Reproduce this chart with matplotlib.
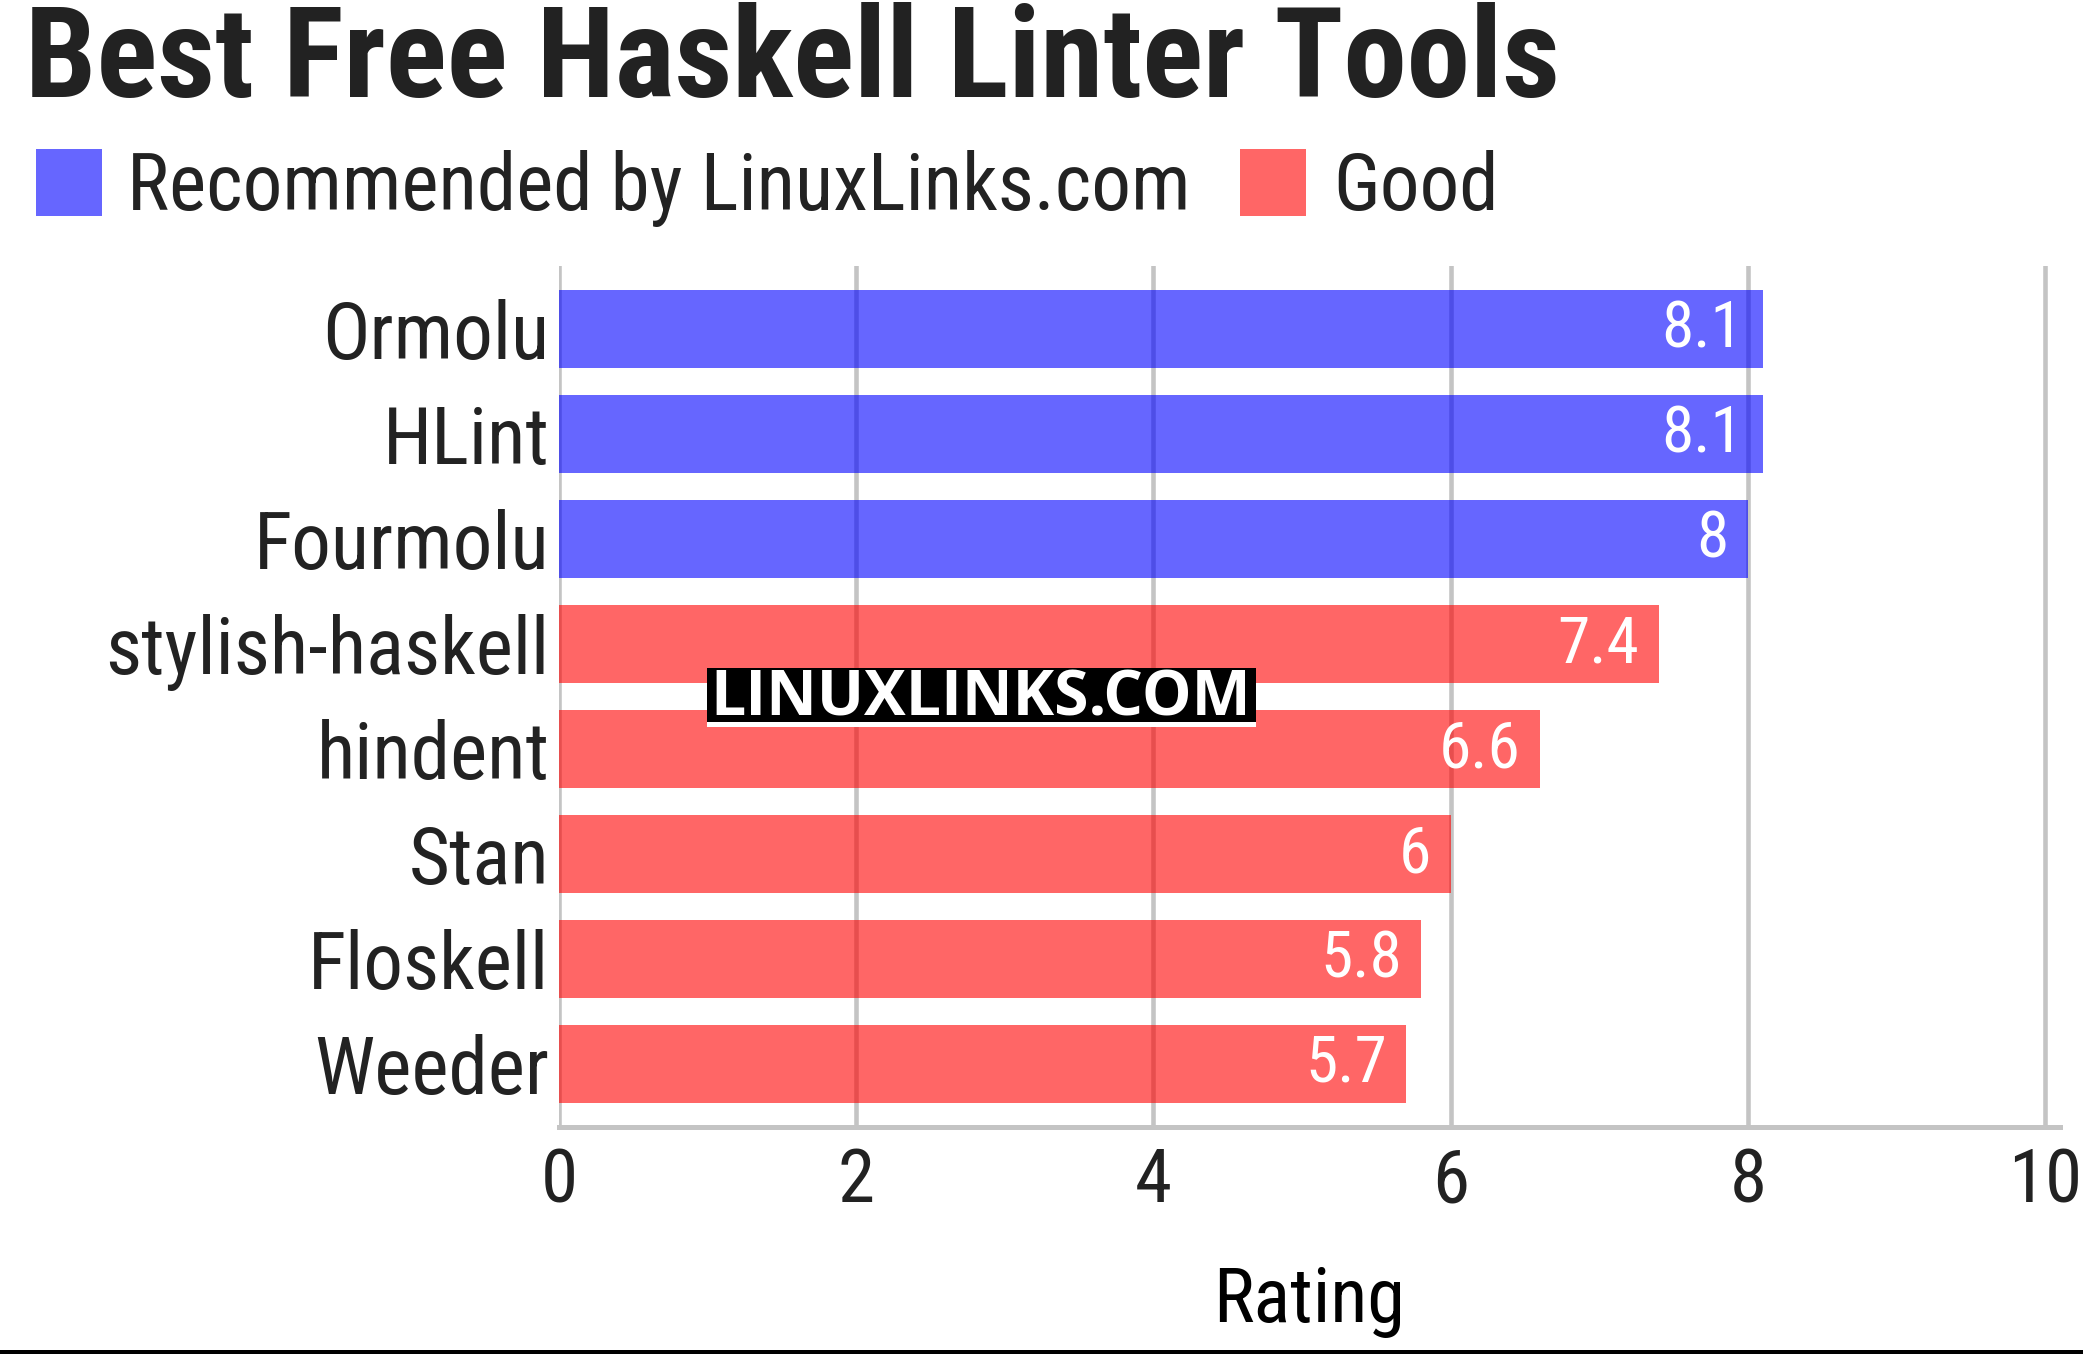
import matplotlib
matplotlib.use("Agg")
import matplotlib.pyplot as plt
from matplotlib.patches import Rectangle

tools = ["Ormolu", "HLint", "Fourmolu", "stylish-haskell", "hindent", "Stan", "Floskell", "Weeder"]
ratings = [8.1, 8.1, 8.0, 7.4, 6.6, 6.0, 5.8, 5.7]
groups = ["rec", "rec", "rec", "good", "good", "good", "good", "good"]
group_names = {"rec": "Recommended by LinuxLinks.com", "good": "Good"}
group_colors = {"rec": "blue", "good": "red"}
xticks = [0, 2, 4, 6, 8, 10]

W, H = 2083, 1354
plt.rcParams['font.family'] = ['Roboto Condensed', 'DejaVu Sans']
txt = "#222222"

fig = plt.figure(figsize=(W / 100, H / 100), dpi=100)
# axes box in pixels: left 559, right 2060, top 266, bottom 1127
ax = fig.add_axes([559 / W, 1 - 1127 / H, (2060 - 559) / W, (1127 - 266) / H])

ypos = list(range(len(tools)))
cols = [group_colors[g] for g in groups]
ax.barh(ypos, ratings, height=0.75, color=cols, alpha=0.6, zorder=2)
for y, v in zip(ypos, ratings):
    ax.text(v - 0.13, y, f"{v:g}", ha="right", va="center", color="white",
            fontsize=47, zorder=3)

ax.set_xlim(0, 10.1)
ax.set_ylim(len(tools) - 0.4, -0.6)
ax.set_xticks(xticks)
ax.set_xticklabels([str(t) for t in xticks])
ax.set_yticks(ypos)
ax.set_yticklabels(tools)
ax.tick_params(axis="y", length=0, pad=7, labelsize=57, labelcolor=txt)
ax.tick_params(axis="x", length=0, pad=14, labelsize=54, labelcolor=txt)
ax.grid(axis="x", color="#c4c4c4", linewidth=3.3, zorder=1)
ax.set_axisbelow(True)
for s in ["top", "right", "left"]:
    ax.spines[s].set_visible(False)
ax.spines["bottom"].set_color("#c4c4c4")
ax.spines["bottom"].set_linewidth(3.6)

# x axis label
fig.text((559 + 2060) / 2 / W, 1 - 1322 / H, "Rating", ha="center", va="baseline",
         fontsize=55, color="black")

# title
fig.text(25 / W, 1 - 97 / H, "Best Free Haskell Linter Tools", ha="left", va="baseline",
         fontsize=91.5, fontweight="bold", color=txt)

# legend
for key, px, tx in [("rec", 36, 127), ("good", 1240, 1333)]:
    fig.patches.append(Rectangle((px / W, 1 - 216 / H), 66 / W, 67 / H, transform=fig.transFigure,
                                 facecolor=group_colors[key], alpha=0.6, edgecolor="none"))
    fig.text(tx / W, 1 - 210 / H, group_names[key], ha="left", va="baseline",
             fontsize=57, color=txt)

# watermark
fig.patches.append(Rectangle((707 / W, 1 - 722 / H), 549 / W, 54 / H, transform=fig.transFigure,
                             facecolor="black", edgecolor="none", zorder=5))
fig.patches.append(Rectangle((707 / W, 1 - 727 / H), 549 / W, 5 / H, transform=fig.transFigure,
                             facecolor="white", edgecolor="none", zorder=5))
fig.text(981 / W, 1 - 716 / H, "LINUXLINKS.COM", ha="center", va="baseline", fontsize=45,
         fontweight="bold", color="white", family=["Open Sans", "DejaVu Sans"], zorder=6)

# bottom border
fig.patches.append(Rectangle((0, 0), 1, 4 / H, transform=fig.transFigure,
                             facecolor="black", edgecolor="none"))

fig.savefig("out.png", dpi=100)
